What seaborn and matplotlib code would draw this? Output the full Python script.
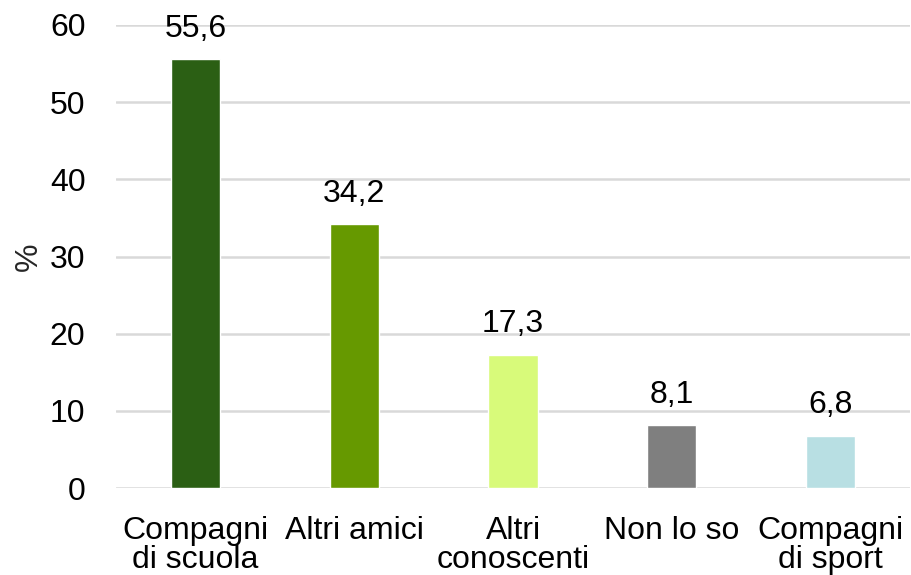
import matplotlib
matplotlib.use("Agg")
import matplotlib.pyplot as plt
import seaborn as sns
import pandas as pd

categories = ["Compagni\ndi scuola", "Altri amici", "Altri\nconoscenti", "Non lo so", "Compagni\ndi sport"]
values = [55.6, 34.2, 17.3, 8.1, 6.8]
colors = ["#2B5F14", "#669900", "#D8FA7A", "#7F7F7F", "#B8DFE3"]
yticks = [0, 10, 20, 30, 40, 50, 60]

sns.set_theme(style="white")
plt.rcParams["font.family"] = ["Liberation Sans", "DejaVu Sans"]

df = pd.DataFrame({"cat": categories, "val": values})

fig = plt.figure(figsize=(9.12, 5.75), dpi=100)
ax = fig.add_axes([116 / 912, 87 / 575, 794 / 912, 463 / 575])

sns.barplot(data=df, x="cat", y="val", hue="cat", palette=colors,
            width=0.31, legend=False, ax=ax, saturation=1)

for i, v in enumerate(values):
    ax.text(i, v + 2.0, f"{v:.1f}".replace(".", ","), ha="center", va="bottom",
            fontsize=23, color="black")

ax.set_ylim(0, 60)
ax.set_yticks(yticks)
ax.set_xlim(-0.5, len(categories) - 0.5)
ax.yaxis.grid(True, color="#D9D9D9", linewidth=1.8)
ax.set_axisbelow(True)
for s in ax.spines.values():
    s.set_visible(False)
ax.tick_params(axis="both", length=0, labelsize=23, colors="black")
ax.tick_params(axis="y", pad=22)
ax.tick_params(axis="x", pad=20)
ax.set_xlabel("")
ax.set_ylabel("%", fontsize=23, labelpad=4)
for lbl in ax.get_xticklabels():
    lbl.set_linespacing(0.95)

fig.savefig("out.png", dpi=100, facecolor="white")
